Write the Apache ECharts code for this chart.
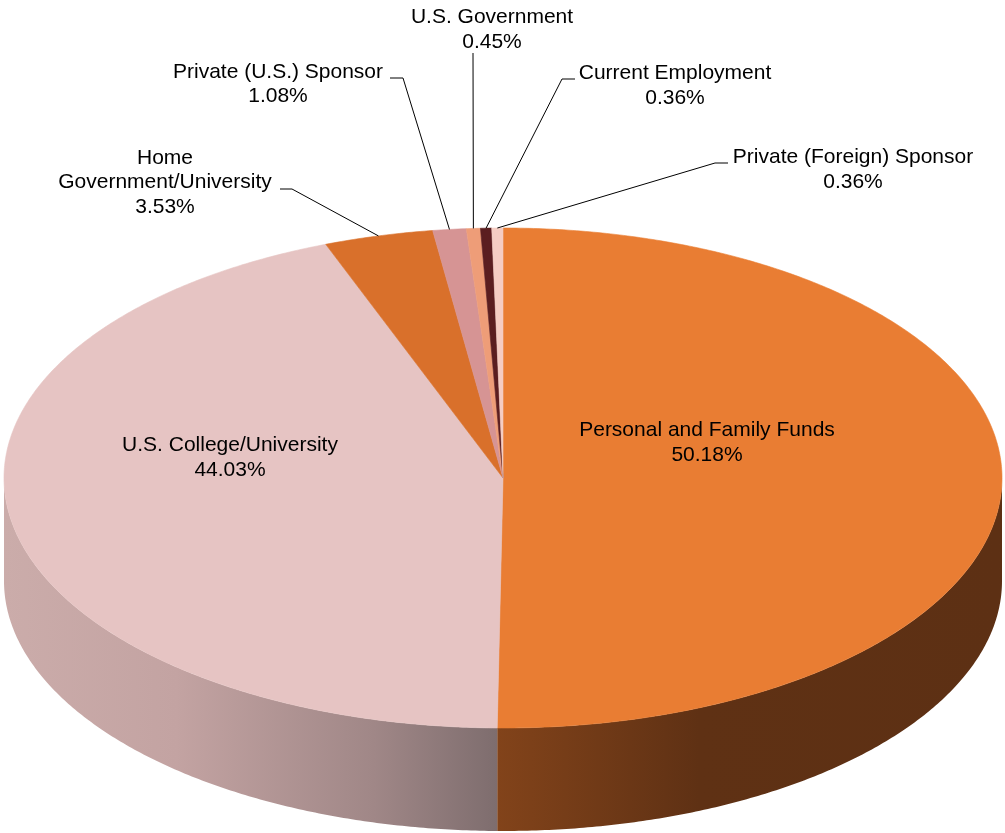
<!DOCTYPE html>
<html><head><meta charset="utf-8">
<script src="https://cdn.jsdelivr.net/npm/echarts@6/dist/echarts.min.js"></script>
<style>html,body{margin:0;padding:0;background:#fff}#c{width:1005px;height:833px}</style>
</head><body><div id="c"></div>
<script>
// ---- data ----
const categories = ['Personal and Family Funds', 'U.S. College/University', 'Home\nGovernment/University',
  'Private (U.S.) Sponsor', 'U.S. Government', 'Current Employment', 'Private (Foreign) Sponsor'];
const shares = [50.18, 44.03, 3.53, 1.08, 0.45, 0.36, 0.36];

// ---- styles ----
const topColors = ['#E97D33', '#E6C4C3', '#D9702B', '#D69494', '#EE9D78', '#5B1E20', '#F5CDC3'];
const sideStops = [
  [[0, '#82431A'], [0.4, '#5F3114'], [1, '#5D3014']],
  [[0, '#CBACAA'], [0.35, '#C3A3A2'], [0.75, '#A08787'], [1, '#7E6D6E']],
  [[0, '#9A4E1C'], [1, '#9A4E1C']],
  [[0, '#8E6060'], [1, '#8E6060']],
  [[0, '#A0654A'], [1, '#A0654A']],
  [[0, '#3A1214'], [1, '#3A1214']],
  [[0, '#A8887F'], [1, '#A8887F']]
];

// ---- layout ----
const PIE = { cx: 503, cy: 478, rx: 499, ry: 250, depth: 103 };
const labelLayout = [
  { x: 707, y: 442.5, path: null },
  { x: 230, y: 457.5, path: null },
  { x: 165, y: 182.5, path: [[280, 189], [292, 189]] },
  { x: 278, y: 84, path: [[390, 78], [403, 78]] },
  { x: 492, y: 29.5, path: [[473, 53]] },
  { x: 675, y: 85.5, path: [[575, 79], [562, 79]] },
  { x: 853, y: 169.5, path: [[728, 163], [715, 163]] }
];

const total = shares.reduce((a, b) => a + b, 0);
const starts = [];
(function () { let acc = 0; shares.forEach(v => { starts.push(acc / total * 360); acc += v; }); })();

function pt(theta, dy) {
  const r = theta * Math.PI / 180;
  return [PIE.cx + PIE.rx * Math.sin(r), PIE.cy - PIE.ry * Math.cos(r) + (dy || 0)];
}
function arc(a1, a2, dy) {
  const pts = [];
  const n = Math.max(2, Math.ceil(Math.abs(a2 - a1) / 0.5));
  for (let k = 0; k <= n; k++) pts.push(pt(a1 + (a2 - a1) * k / n, dy));
  return pts;
}

function renderItem(params, api) {
  const i = params.dataIndex;
  const v = api.value(0);
  const a1 = starts[i];
  const a2 = a1 + v / total * 360;
  const children = [];
  const lo = Math.max(a1, 90), hi = Math.min(a2, 270);
  if (lo < hi) {
    const wall = arc(lo, hi, 0).concat(arc(hi, lo, PIE.depth));
    const xs = wall.map(p => p[0]);
    const x0 = Math.min.apply(null, xs), x1 = Math.max.apply(null, xs);
    children.push({
      type: 'polygon', z2: 0,
      shape: { points: wall },
      style: {
        fill: { type: 'linear', x: x0, y: 0, x2: x1, y2: 0, global: true,
          colorStops: sideStops[i].map(s => ({ offset: s[0], color: s[1] })) },
        stroke: null
      }
    });
  }
  const topPts = [[PIE.cx, PIE.cy]].concat(arc(a1, a2, 0));
  children.push({
    type: 'polygon', z2: 1,
    shape: { points: topPts },
    style: { fill: topColors[i], stroke: topColors[i], lineWidth: 0.6 }
  });
  const L = labelLayout[i];
  if (L.path) {
    const mid = pt((a1 + a2) / 2, 0);
    children.push({
      type: 'polyline', z2: 2,
      shape: { points: L.path.concat([mid]) },
      style: { stroke: '#000', lineWidth: 1, fill: null }
    });
  }
  children.push({
    type: 'text', z2: 3,
    style: {
      text: categories[i] + '\n' + v.toFixed(2) + '%',
      x: L.x, y: L.y, align: 'center', verticalAlign: 'middle',
      fill: '#000', fontSize: 21, fontFamily: 'Liberation Sans, Arial, sans-serif', lineHeight: 24.5
    }
  });
  return { type: 'group', children: children };
}

const chart = echarts.init(document.getElementById('c'), null, { renderer: 'canvas' });
chart.setOption({
  animation: false,
  series: [{
    type: 'custom',
    coordinateSystem: 'none',
    silent: true,
    renderItem: renderItem,
    data: shares.map((v, i) => ({ name: categories[i], value: [v] }))
  }]
});
</script>
</body></html>
